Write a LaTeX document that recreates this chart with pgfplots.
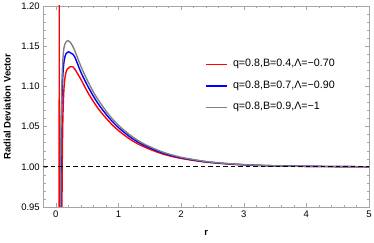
\documentclass[border=0pt]{standalone}
\usepackage{pgfplots}
\pgfplotsset{compat=1.18}
\usepackage{fontspec}
\setmainfont{Liberation Sans}
\begin{document}
\begin{tikzpicture}
\useasboundingbox (-43.3pt,-36pt) rectangle (330.7pt,207pt);
\begin{axis}[
  scale only axis, width=325.7pt, height=201pt,
  xmin=-0.2, xmax=5, ymin=0.95, ymax=1.20,
  xtick={0,1,2,3,4,5}, minor x tick num=4,
  ytick={0.95,1.00,1.05,1.10,1.15,1.20}, minor y tick num=4,
  yticklabel style={/pgf/number format/.cd, fixed, fixed zerofill, precision=2},
  /pgf/number format/assume math mode=true,
  tick label style={font=\fontsize{9.5}{10}\selectfont, black},
  axis line style={gray!70},
  every tick/.style={gray!70, thin},
  major tick length=4pt, minor tick length=2.2pt,
  xlabel={\textbf{r}}, ylabel={\textbf{Radial Deviation Vector}},
  label style={font=\fontsize{9.5}{10}\selectfont},
  x label style={at={(axis description cs:0.5,-0.129)}, anchor=center},
  y label style={at={(axis description cs:-0.111,0.5)}, anchor=center},
  legend style={at={(axis description cs:0.488,0.602)}, anchor=west, draw=none, fill=none,
    font=\fontsize{10.7}{11}\selectfont, row sep=12.5pt,
    nodes={inner sep=0pt, text height=7pt, text depth=2pt}},
  legend cell align=left,
  legend image code/.code={\draw[#1, line width=1.6pt] (0pt,0pt) -- (21pt,0pt);},
  /tikz/every odd column/.append style={column sep=5pt},
]
\addplot[red, line width=1.4pt, smooth, tension=0.5] coordinates {
(0.094,0.90)(0.098,0.95)(0.102,1.00)(0.11,1.05)(0.12,1.08)(0.135,1.103)(0.16,1.117)(0.19,1.122)(0.23,1.1245)(0.27,1.1245)(0.3,1.122)(0.4,1.1088)(0.5,1.094)(0.6,1.0811)(0.7,1.070)(0.85,1.0563)(1.0,1.0451)(1.2,1.0335)(1.4,1.0251)(1.7,1.0161)(2.0,1.0104)(2.4,1.0058)(2.8,1.0032)(3.2,1.0018)(3.6,1.001)(4.0,1.0005)(5.0,1.000)};
\addlegendentry{q=0.8,B=0.4,Λ=−0.70}
\addplot[blue, line width=1.4pt, smooth, tension=0.5] coordinates {
(0.076,0.90)(0.080,0.95)(0.084,1.00)(0.091,1.06)(0.10,1.09)(0.115,1.117)(0.135,1.133)(0.165,1.141)(0.20,1.143)(0.25,1.141)(0.3,1.137)(0.4,1.1177)(0.5,1.1018)(0.6,1.0878)(0.7,1.0757)(0.85,1.0608)(1.0,1.0488)(1.2,1.0363)(1.4,1.0271)(1.7,1.0174)(2.0,1.0112)(2.4,1.0062)(2.8,1.0035)(3.2,1.0019)(3.6,1.0011)(4.0,1.0006)(5.0,1.000)};
\addlegendentry{q=0.8,B=0.7,Λ=−0.90}
\addplot[gray, line width=1.4pt, smooth, tension=0.5] coordinates {
(0.070,0.90)(0.074,0.95)(0.078,1.00)(0.085,1.06)(0.095,1.10)(0.11,1.13)(0.13,1.148)(0.16,1.155)(0.19,1.157)(0.24,1.154)(0.3,1.145)(0.4,1.125)(0.5,1.108)(0.6,1.093)(0.7,1.0805)(0.85,1.0645)(1.0,1.0517)(1.2,1.0386)(1.4,1.0287)(1.7,1.0185)(2.0,1.0119)(2.4,1.0066)(2.8,1.0037)(3.2,1.002)(3.6,1.0011)(4.0,1.0006)(5.0,1.000)};
\addlegendentry{q=0.8,B=0.9,Λ=−1}
\addplot[red, line width=1.3pt, forget plot] coordinates {(0.052,0.90)(0.054,1.25)};
\addplot[black, line width=0.9pt, dash pattern=on 4.5pt off 3pt, forget plot] coordinates {(-0.2,1.0)(5,1.0)};
\end{axis}
\end{tikzpicture}
\end{document}
